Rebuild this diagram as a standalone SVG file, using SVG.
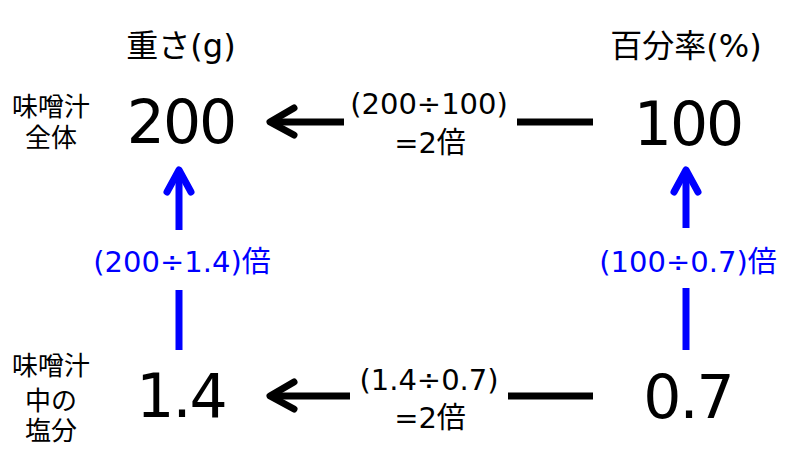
<svg xmlns="http://www.w3.org/2000/svg" width="800" height="450" viewBox="0 0 800 450">
<style>
text{font-family:"DejaVu Sans","Noto Sans CJK JP",sans-serif;text-anchor:middle;fill:#000}
.hdr{font-size:32px}
.side{font-size:26px}
.num{font-size:60px;letter-spacing:-2px}
.mid{font-size:29px}
.blue{fill:#0000ff}
.k{stroke:#000;stroke-width:7;fill:none;stroke-linecap:butt}
.kh{stroke:#000;stroke-width:7;fill:none;stroke-linecap:round;stroke-linejoin:round}
.b{stroke:#0000ff;stroke-width:7;fill:none}
.bh{stroke:#0000ff;stroke-width:7;fill:none;stroke-linecap:round;stroke-linejoin:round}
</style>
<rect width="800" height="450" fill="#fff"/>
<g id="headers">
<text class="hdr" x="181" y="57">重さ(g)</text>
<text class="hdr" x="686" y="57">百分率(%)</text>
</g>
<g id="label-top"><text class="side" x="51" y="116">味噌汁</text><text class="side" x="51" y="147">全体</text></g>
<g id="label-bottom"><text class="side" x="51" y="375">味噌汁</text><text class="side" x="51" y="410">中の</text><text class="side" x="51" y="440">塩分</text></g>
<g id="n200"><text class="num" x="181" y="143">200</text></g>
<g id="n100"><text class="num" x="688" y="145">100</text></g>
<g id="n14"><text class="num" x="181" y="417">1.4</text></g>
<g id="n07"><text class="num" x="688" y="418">0.7</text></g>
<g id="connectors">
<line class="k" x1="344" y1="122" x2="272" y2="122"/>
<path class="kh" d="M294,108 L270,122 L294,135"/>
<line class="k" x1="517" y1="122" x2="593" y2="122"/>
<line class="k" x1="350" y1="396" x2="272" y2="396"/>
<path class="kh" d="M294,382 L270,396 L294,409"/>
<line class="k" x1="508" y1="396" x2="593" y2="396"/>
<line class="b" x1="179" y1="230" x2="179" y2="172"/>
<path class="bh" d="M167,192 L179,170 L191,192"/>
<line class="b" x1="179" y1="290" x2="179" y2="350"/>
<line class="b" x1="686" y1="228" x2="686" y2="172"/>
<path class="bh" d="M674,192 L686,170 L698,192"/>
<line class="b" x1="686" y1="288" x2="686" y2="350"/>
</g>
<g id="conn-labels">
<text class="mid" x="429" y="114">(200÷100)</text>
<text class="mid" x="430" y="153">=2倍</text>
<text class="mid" x="429" y="390">(1.4÷0.7)</text>
<text class="mid" x="430" y="428">=2倍</text>
<text class="mid blue" x="182" y="272">(200÷1.4)倍</text>
<text class="mid blue" x="688" y="272">(100÷0.7)倍</text>
</g>
</svg>
